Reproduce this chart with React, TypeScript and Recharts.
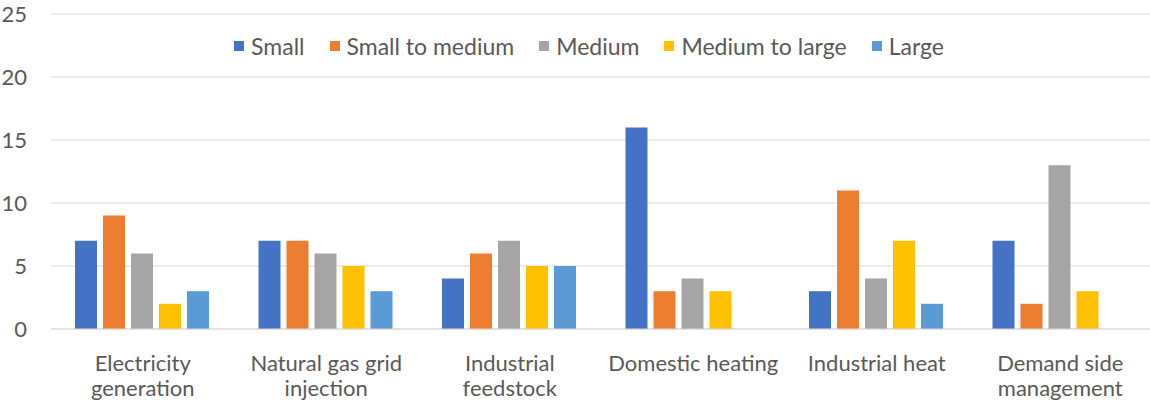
import React from 'react';
import { BarChart, Bar, XAxis, YAxis, CartesianGrid, Legend } from 'recharts';

const categories = [
    'Electricity generation',
    'Natural gas grid injection',
    'Industrial feedstock',
    'Domestic heating',
    'Industrial heat',
    'Demand side management',
];

// how each category name is broken over the two label lines
const categoryLines = [
    ['Electricity', 'generation'],
    ['Natural gas grid', 'injection'],
    ['Industrial', 'feedstock'],
    ['Domestic heating'],
    ['Industrial heat'],
    ['Demand side', 'management'],
];

const small = [7, 7, 4, 16, 3, 7];
const smallToMedium = [9, 7, 6, 3, 11, 2];
const medium = [6, 6, 7, 4, 4, 13];
const mediumToLarge = [2, 5, 5, 3, 7, 3];
const large = [3, 3, 5, 0, 2, 0];

const yTicks = [0, 5, 10, 15, 20, 25];

const SERIES = [
    { key: 'small', name: 'Small', color: '#4472C4', values: small },
    { key: 'smallToMedium', name: 'Small to medium', color: '#ED7D31', values: smallToMedium },
    { key: 'medium', name: 'Medium', color: '#A5A5A5', values: medium },
    { key: 'mediumToLarge', name: 'Medium to large', color: '#FFC000', values: mediumToLarge },
    { key: 'large', name: 'Large', color: '#5B9BD5', values: large },
];

const chartData = categories.map((name, i) => {
    const row: Record<string, string | number> = { name };
    SERIES.forEach((s) => {
        row[s.key] = s.values[i];
    });
    return row;
});

const FONT = 'Lato, "Open Sans", sans-serif';
const TEXT = '#595959';
const FONT_SIZE = 22;

function CategoryTick({ x, y, payload }: any) {
    const idx = categories.indexOf(payload.value);
    const lines = categoryLines[idx] || [payload.value];
    return (
        <g>
            {lines.map((line, i) => (
                <text
                    key={line}
                    x={x}
                    y={y + 34 + i * 25}
                    textAnchor="middle"
                    fill={TEXT}
                    fontSize={FONT_SIZE}
                    fontFamily={FONT}
                >
                    {line}
                </text>
            ))}
        </g>
    );
}

function LegendRow() {
    return (
        <div style={{ display: 'flex', justifyContent: 'center', gap: 25, fontFamily: FONT, fontSize: 23, color: TEXT }}>
            {SERIES.map((s) => (
                <div key={s.key} style={{ display: 'flex', alignItems: 'center', gap: 7 }}>
                    <div style={{ width: 10, height: 10, background: s.color }} />
                    <span>{s.name}</span>
                </div>
            ))}
        </div>
    );
}

export default function App() {
    return (
        <div style={{ position: 'absolute', left: 0, top: 0, width: 1150, height: 405, overflow: 'hidden', background: '#fff' }}>
            <BarChart
                width={1152}
                height={405}
                data={chartData}
                margin={{ top: 14, right: 0, bottom: 0, left: 0 }}
                barCategoryGap={24}
                barGap={6}
            >
                <CartesianGrid vertical={false} stroke="#d9d9d9" />
                <XAxis
                    dataKey="name"
                    height={76}
                    axisLine={{ stroke: '#d9d9d9' }}
                    tickLine={false}
                    interval={0}
                    tick={<CategoryTick />}
                />
                <YAxis
                    width={51}
                    domain={[0, 25]}
                    ticks={yTicks}
                    axisLine={false}
                    tickLine={false}
                    tickSize={0}
                    tickMargin={24}
                    tick={{ fill: TEXT, fontSize: FONT_SIZE, fontFamily: FONT }}
                />
                <Legend
                    verticalAlign="middle"
                    wrapperStyle={{ top: 32, left: 0, width: 1178 }}
                    content={() => <LegendRow />}
                />
                {SERIES.map((s) => (
                    <Bar key={s.key} dataKey={s.key} name={s.name} fill={s.color} isAnimationActive={false} />
                ))}
            </BarChart>
        </div>
    );
}
